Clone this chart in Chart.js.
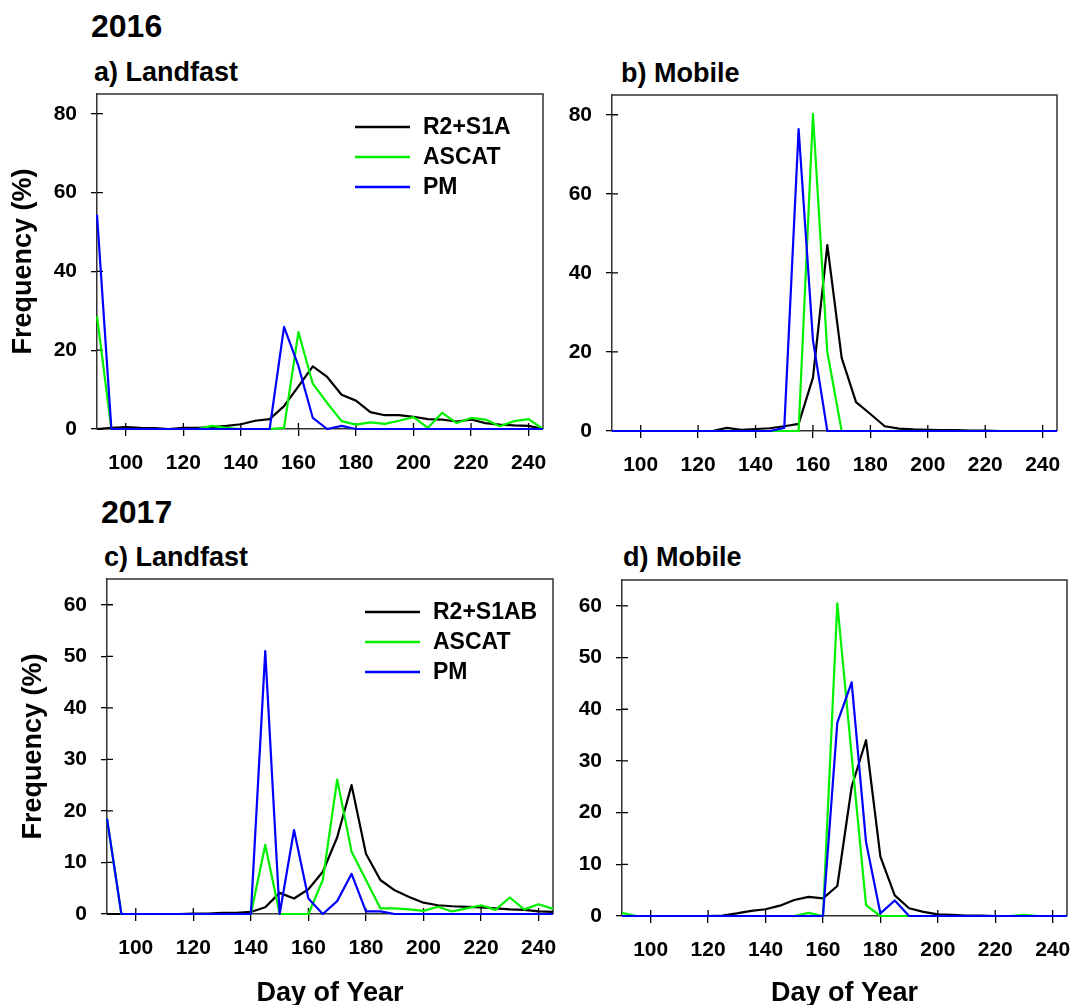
<!DOCTYPE html>
<html>
<head>
<meta charset="utf-8">
<script src="https://cdn.jsdelivr.net/npm/chart.js@4.4.1/dist/chart.umd.min.js"></script>
<style>
html,body{margin:0;padding:0;background:#fff;width:1073px;height:1005px;overflow:hidden;font-family:"Liberation Sans",Arial,sans-serif;}
.t{position:absolute;font-weight:bold;color:#000;white-space:nowrap;line-height:1;}
canvas{position:absolute;}
</style>
</head>
<body>
<div class="t" style="left:91px;top:10px;font-size:32px;">2016</div>
<div class="t" style="left:94px;top:59px;font-size:27px;">a) Landfast</div>
<div class="t" style="left:621px;top:60px;font-size:27px;">b) Mobile</div>
<div class="t" style="left:101px;top:496px;font-size:32px;">2017</div>
<div class="t" style="left:104px;top:544px;font-size:27px;">c) Landfast</div>
<div class="t" style="left:623px;top:544px;font-size:27px;">d) Mobile</div>

<canvas id="ca" width="560" height="396" style="left:0px;top:84px;"></canvas>
<canvas id="cb" width="513" height="396" style="left:560px;top:84px;"></canvas>
<canvas id="cc" width="560" height="435" style="left:10px;top:570px;"></canvas>
<canvas id="cd" width="503" height="435" style="left:570px;top:570px;"></canvas>

<script>
// ---------- DATA ----------
const days = [90,95,100,105,110,115,120,125,130,135,140,145,150,155,160,165,170,175,180,185,190,195,200,205,210,215,220,225,230,235,240,245];
const xTickLabels = [100,120,140,160,180,200,220,240];
const yTicks2016 = [0,20,40,60,80];
const yTicks2017 = [0,10,20,30,40,50,60];
const names2016 = ['R2+S1A','ASCAT','PM'];
const names2017 = ['R2+S1AB','ASCAT','PM'];

// a) 2016 Landfast
const landfast2016_SAR   = [0,0.3,0.5,0.3,0.2,0,0.3,0.3,0.5,0.8,1.2,2.1,2.5,5.8,10.8,15.9,13.2,8.7,7.2,4.3,3.5,3.5,3.1,2.5,2.4,1.9,2.4,1.5,1.1,0.9,0.8,0];
const landfast2016_ASCAT = [28.6,0,0,0,0,0,0,0,0.8,0.3,0,0,0,0.3,24.6,11.5,6.6,2.0,1.1,1.7,1.3,2.1,3.0,0.3,4.1,1.5,2.8,2.4,0.7,2.0,2.5,0];
const landfast2016_PM    = [54.4,0,0,0,0,0,0,0,0,0,0,0,0,25.9,16,2.8,0,0.8,0,0,0,0,0,0,0,0,0,0,0,0,0,0];

// b) 2016 Mobile
const mobile2016_SAR   = [0,0,0,0,0,0,0,0,0.8,0.3,0.5,0.7,1.2,1.8,13.5,47,18.5,7.3,4.3,1.2,0.6,0.4,0.3,0.2,0.2,0.1,0.1,0,0,0,0,0];
const mobile2016_ASCAT = [0,0,0,0,0,0,0,0,0,0,0,0,0,0,80.2,20,0,0,0,0,0,0,0,0,0,0,0,0,0,0,0,0];
const mobile2016_PM    = [0,0,0,0,0,0,0,0,0,0,0,0,0.8,76.4,23,0,0,0,0,0,0,0,0,0,0,0,0,0,0,0,0,0];

// c) 2017 Landfast
const landfast2017_SAR   = [0,0,0,0,0,0,0.1,0.1,0.2,0.2,0.4,1.3,4.1,3.0,4.8,8.2,14.9,25,11.7,6.6,4.6,3.3,2.2,1.7,1.5,1.4,1.3,1.1,0.9,0.8,0.5,0.4];
const landfast2017_ASCAT = [18.5,0,0,0,0,0,0,0,0,0,0,13.4,0,0,0,6.6,26.1,12.1,6.6,1.1,1.1,0.9,0.6,1.4,0.5,1.1,1.7,0.8,3.2,0.9,1.9,1.0];
const landfast2017_PM    = [18.5,0,0,0,0,0,0,0,0,0,0,51,0,16.3,3,0,2.5,7.8,0.5,0.5,0,0,0,0,0,0,0,0,0,0,0,0];

// d) 2017 Mobile
const mobile2017_SAR   = [0,0,0,0,0,0,0,0.1,0.5,1.0,1.3,2.0,3.1,3.7,3.4,5.8,25,34,11.5,4.0,1.5,0.8,0.3,0.2,0.1,0.1,0,0,0,0,0,0];
const mobile2017_ASCAT = [0.6,0,0,0,0,0,0,0,0,0,0,0,0,0.6,0,60.5,31,2.1,0,0,0,0,0,0,0,0,0,0,0.2,0,0,0];
const mobile2017_PM    = [0,0,0,0,0,0,0,0,0,0,0,0,0,0,0,37.4,45.2,14.3,0.5,3.0,0,0,0,0,0,0,0,0,0,0,0,0];

const colors = ['#000000','#00f000','#0000ff'];

// ---------- PLUGINS ----------
const framePlugin = {
  id: 'frame',
  beforeDatasetsDraw(chart) {
    const {ctx, chartArea: ca, scales} = chart;
    ctx.save();
    ctx.strokeStyle = '#333';
    ctx.lineWidth = 1.5;
    ctx.beginPath();
    ctx.moveTo(ca.left, ca.top);
    ctx.lineTo(ca.right, ca.top);
    ctx.lineTo(ca.right, ca.bottom);
    ctx.stroke();
    ctx.strokeStyle = '#000';
    ctx.lineWidth = 1.3;
    ctx.beginPath();
    scales.x.ticks.forEach(t => {
      const px = scales.x.getPixelForValue(t.value);
      ctx.moveTo(px, ca.bottom);
      ctx.lineTo(px, ca.bottom - 6);
    });
    scales.y.ticks.forEach(t => {
      const py = scales.y.getPixelForValue(t.value);
      ctx.moveTo(ca.left, py);
      ctx.lineTo(ca.left + 6, py);
    });
    ctx.stroke();
    ctx.restore();
  }
};

const insideLegend = {
  id: 'insideLegend',
  afterDatasetsDraw(chart, args, opts) {
    if (!opts || !opts.display) return;
    const {ctx, chartArea: ca} = chart;
    ctx.save();
    ctx.font = 'bold 23px "Liberation Sans", Arial, sans-serif';
    ctx.textBaseline = 'middle';
    ctx.textAlign = 'left';
    chart.data.datasets.forEach((ds, i) => {
      const y = ca.top + 33 + i * 30;
      ctx.strokeStyle = ds.borderColor;
      ctx.lineWidth = 2.3;
      ctx.beginPath();
      ctx.moveTo(ca.right - 188, y);
      ctx.lineTo(ca.right - 133, y);
      ctx.stroke();
      ctx.fillStyle = '#000';
      ctx.fillText(ds.label, ca.right - 120, y + 1);
    });
    ctx.restore();
  }
};

// ---------- BUILDER ----------
function makeChart(id, names, series, yTicks, yMax, opt) {
  const datasets = series.map((vals, i) => ({
    label: names[i],
    data: days.map((d, k) => ({x: d, y: vals[k]})),
    borderColor: colors[i],
    backgroundColor: colors[i],
    borderWidth: 2.2,
    pointRadius: 0,
    tension: 0,
    fill: false,
    clip: 4,
    borderJoinStyle: 'round',
    order: 3 - i
  }));
  return new Chart(document.getElementById(id), {
    type: 'line',
    data: { datasets },
    options: {
      responsive: false,
      devicePixelRatio: 1,
      animation: false,
      layout: { padding: { top: opt.padTop, right: opt.padRight, left: 0, bottom: 0 } },
      plugins: {
        legend: { display: false },
        tooltip: { enabled: false },
        insideLegend: { display: opt.legend }
      },
      scales: {
        x: {
          type: 'linear', min: 90, max: 245,
          afterBuildTicks: ax => { ax.ticks = xTickLabels.map(v => ({value: v})); },
          afterFit: ax => { ax.height = opt.xH; ax.paddingLeft = 0; ax.paddingRight = 0; },
          grid: { drawOnChartArea: false, drawTicks: true, tickLength: 7, color: '#000', lineWidth: 1.3 },
          border: { display: true, color: '#333', width: 1.5 },
          ticks: { font: { size: 21, weight: 'bold' }, color: '#000', padding: 15, maxRotation: 0, autoSkip: false },
          title: { display: opt.xTitle, text: 'Day of Year', color: '#000',
                   font: { size: 27, weight: 'bold', lineHeight: 1 }, padding: { top: 0, bottom: -2 } }
        },
        y: {
          type: 'linear', min: 0, max: yMax,
          afterBuildTicks: ax => { ax.ticks = yTicks.map(v => ({value: v})); },
          afterFit: ax => { ax.width = opt.yW; ax.paddingTop = 0; ax.paddingBottom = 0; },
          grid: { drawOnChartArea: false, drawTicks: true, tickLength: 6, color: '#000', lineWidth: 1.3 },
          border: { display: true, color: '#333', width: 1.5 },
          ticks: { font: { size: 21, weight: 'bold' }, color: '#000', padding: 14 },
          title: { display: opt.yTitle, text: 'Frequency (%)', color: '#000',
                   font: { size: 27, weight: 'bold', lineHeight: 1.2 }, padding: { top: 7, bottom: 0 } }
        }
      }
    },
    plugins: [framePlugin, insideLegend]
  });
}

Chart.defaults.font.family = '"Liberation Sans", Arial, sans-serif';

makeChart('ca', names2016, [landfast2016_SAR, landfast2016_ASCAT, landfast2016_PM], yTicks2016, 85,
  { padTop: 10, padRight: 17, xH: 51, yW: 97, legend: true, xTitle: false, yTitle: true });
makeChart('cb', names2016, [mobile2016_SAR, mobile2016_ASCAT, mobile2016_PM], yTicks2016, 85,
  { padTop: 11, padRight: 16, xH: 49, yW: 52, legend: false, xTitle: false, yTitle: false });
makeChart('cc', names2017, [landfast2017_SAR, landfast2017_ASCAT, landfast2017_PM], yTicks2017, 65,
  { padTop: 9, padRight: 17, xH: 91, yW: 97, legend: true, xTitle: true, yTitle: true });
makeChart('cd', names2017, [mobile2017_SAR, mobile2017_ASCAT, mobile2017_PM], yTicks2017, 65,
  { padTop: 10, padRight: 6, xH: 89, yW: 52, legend: false, xTitle: true, yTitle: false });
</script>
</body>
</html>
